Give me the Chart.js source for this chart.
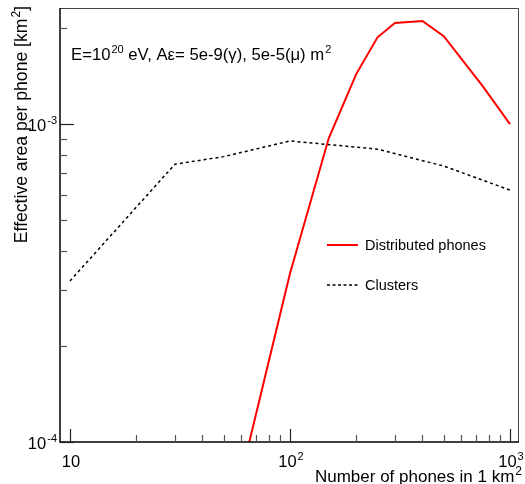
<!DOCTYPE html>
<html><head><meta charset="utf-8">
<script src="https://cdn.jsdelivr.net/npm/chart.js@4.4.0/dist/chart.umd.min.js"></script>
<style>html,body{margin:0;padding:0;background:#fff}#c{display:block}</style>
</head><body>
<canvas id="c" width="525" height="484"></canvas>
<script>
// ---- data ----
const distX = [50, 100, 150, 200, 250, 300, 400, 500, 750, 1000];
const distY = [4.65e-5, 3.39e-4, 9.02e-4, 1.436e-3, 1.875e-3, 2.08e-3, 2.11e-3, 1.89e-3, 1.318e-3, 1.0e-3];
const clusX = [10, 30, 50, 100, 250, 500, 1000];
const clusY = [3.21e-4, 7.48e-4, 7.9e-4, 8.85e-4, 8.34e-4, 7.38e-4, 6.2e-4];
const xMajor = [10, 100, 1000];
const xMajorLabels = [["10", ""], ["10", "2"], ["10", "3"]];
const yMajor = [1e-4, 1e-3];
const yMajorLabels = [["10", "-4"], ["10", "-3"]];
const seriesNames = ["Distributed phones", "Clusters"];
const xTitle = ["Number of phones in 1 km", "2"];
const yTitle = ["Effective area per phone [km", "2", "]"];
const note = [["E=10", false], ["20", true], [" eV, A\u03b5= 5e-9(\u03b3), 5e-5(\u03bc) m", false], ["2", true]];

const F = '"Liberation Sans", Arial, Helvetica, sans-serif';

function drawSup(ctx, parts, x, y, size, align) {
  const fb = size + 'px ' + F, fs = Math.round(size * 0.68) + 'px ' + F;
  let w = 0;
  parts.forEach(p => { ctx.font = p[1] ? fs : fb; w += ctx.measureText(p[0]).width + (p[1] ? 1 : 0); });
  let cx = align === 'right' ? x - w : align === 'center' ? x - w / 2 : x;
  ctx.textAlign = 'left';
  ctx.textBaseline = 'alphabetic';
  parts.forEach(p => {
    ctx.font = p[1] ? fs : fb;
    if (p[1]) cx += 1;
    ctx.fillText(p[0], cx, p[1] ? y - size * 0.42 : y);
    cx += ctx.measureText(p[0]).width;
  });
  return w;
}

const rootPlugin = {
  id: 'rootStyle',
  afterDraw(chart) {
    const ctx = chart.ctx, a = chart.chartArea, xs = chart.scales.x, ys = chart.scales.y;
    ctx.save();
    // frame
    ctx.strokeStyle = '#444'; ctx.lineWidth = 1;
    ctx.beginPath();
    ctx.moveTo(a.left, a.top + 0.5); ctx.lineTo(a.right - 0.5, a.top + 0.5); ctx.lineTo(a.right - 0.5, a.bottom);
    ctx.stroke();
    ctx.strokeStyle = '#000'; ctx.lineWidth = 1.5;
    ctx.beginPath();
    ctx.moveTo(a.left, a.top); ctx.lineTo(a.left, a.bottom); ctx.lineTo(a.right, a.bottom);
    ctx.stroke();
    // x ticks
    ctx.lineWidth = 1.2;
    for (let d = 1; d <= 1000; d *= 10) {
      for (let m = 1; m <= 9; m++) {
        const v = m * d;
        if (v < xs.min || v > xs.max) continue;
        const px = Math.round(xs.getPixelForValue(v)) + 0.5;
        const len = m === 1 ? 13 : 7;
        ctx.strokeStyle = m === 1 ? '#222' : '#555';
        ctx.beginPath(); ctx.moveTo(px, a.bottom); ctx.lineTo(px, a.bottom - len); ctx.stroke();
      }
    }
    // y ticks
    for (let d = 1e-5; d <= 1e-2; d *= 10) {
      for (let m = 1; m <= 9; m++) {
        const v = m * d;
        if (v < ys.min * 0.999 || v > ys.max) continue;
        const py = Math.round(ys.getPixelForValue(v)) + 0.5;
        const len = m === 1 ? 14 : 7;
        ctx.strokeStyle = m === 1 ? '#222' : '#555';
        ctx.beginPath(); ctx.moveTo(a.left, py); ctx.lineTo(a.left + len, py); ctx.stroke();
      }
    }
    ctx.fillStyle = '#000';
    // x labels
    xMajor.forEach((v, i) => {
      const px = xs.getPixelForValue(v);
      drawSup(ctx, [[xMajorLabels[i][0], false], [xMajorLabels[i][1], true]].filter(p => p[0] !== ''), px + 1, 467, 16.5, 'center');
    });
    // y labels
    yMajor.forEach((v, i) => {
      const py = ys.getPixelForValue(v);
      drawSup(ctx, [[yMajorLabels[i][0], false], [yMajorLabels[i][1], true]], 57, py + 7, 16.5, 'right');
    });
    // x title
    drawSup(ctx, [[xTitle[0], false], [xTitle[1], true]], 522, 482, 17, 'right');
    // y title
    ctx.save();
    ctx.translate(27, 6);
    ctx.rotate(-Math.PI / 2);
    drawSup(ctx, [[yTitle[0], false], [yTitle[1], true], [yTitle[2], false]], 0, 0, 17.6, 'right');
    ctx.restore();
    // annotation
    drawSup(ctx, note, 71, 60, 16.7, 'left');
    // legend
    const ly = [245, 285];
    ctx.lineWidth = 2; ctx.strokeStyle = '#ff0000'; ctx.setLineDash([]);
    ctx.beginPath(); ctx.moveTo(327, ly[0]); ctx.lineTo(358, ly[0]); ctx.stroke();
    ctx.lineWidth = 1.5; ctx.strokeStyle = '#000'; ctx.setLineDash([3, 2.5]);
    ctx.beginPath(); ctx.moveTo(327, ly[1]); ctx.lineTo(358, ly[1]); ctx.stroke();
    ctx.setLineDash([]);
    ctx.font = '14.5px ' + F; ctx.textAlign = 'left'; ctx.textBaseline = 'middle';
    ctx.fillText(seriesNames[0], 365, ly[0] + 0.5);
    ctx.fillText(seriesNames[1], 365, ly[1] + 0.5);
    ctx.restore();
  }
};

new Chart(document.getElementById('c'), {
  type: 'line',
  data: {
    datasets: [
      { label: seriesNames[0], data: distX.map((x, i) => ({ x, y: distY[i] })), borderColor: '#ff0000', borderWidth: 2, pointRadius: 0, tension: 0, fill: false },
      { label: seriesNames[1], data: clusX.map((x, i) => ({ x, y: clusY[i] })), borderColor: '#000000', borderWidth: 1.5, borderDash: [3, 3], pointRadius: 0, tension: 0, fill: false }
    ]
  },
  options: {
    responsive: false, animation: false, devicePixelRatio: 1,
    layout: { padding: { left: 60, top: 8, right: 6, bottom: 42 } },
    plugins: { legend: { display: false }, tooltip: { enabled: false } },
    scales: {
      x: { type: 'logarithmic', min: 9.006, max: 1099, display: false },
      y: { type: 'logarithmic', min: 1e-4, max: 2.318e-3, display: false }
    }
  },
  plugins: [rootPlugin]
});
</script>
</body></html>
